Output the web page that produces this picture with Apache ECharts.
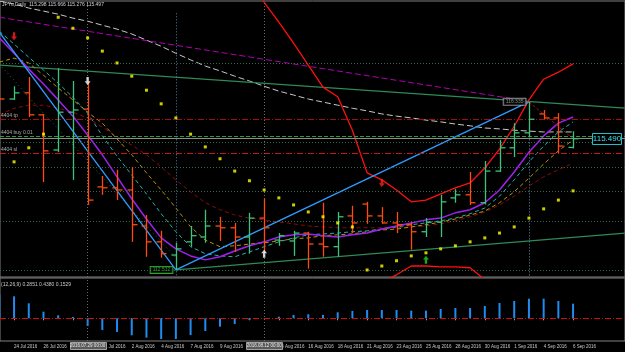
<!DOCTYPE html>
<html>
<head>
<meta charset="UTF-8">
<title>JPY Daily</title>
<script src="https://cdn.jsdelivr.net/npm/echarts@6/dist/echarts.min.js"></script>
<style>html,body{margin:0;padding:0;background:#000;}</style>
</head>
<body>
<div id="main" style="width:625px;height:352px;"></div>
<script type="text/javascript">
// daily bars (Sun-Fri)
var dates = ['22 Jul 2016','24 Jul 2016','25 Jul 2016','26 Jul 2016','27 Jul 2016','28 Jul 2016','29 Jul 2016','31 Jul 2016',
  '1 Aug 2016','2 Aug 2016','3 Aug 2016','4 Aug 2016','5 Aug 2016','7 Aug 2016','8 Aug 2016','9 Aug 2016','10 Aug 2016',
  '11 Aug 2016','12 Aug 2016','14 Aug 2016','15 Aug 2016','16 Aug 2016','17 Aug 2016','18 Aug 2016','19 Aug 2016',
  '21 Aug 2016','22 Aug 2016','23 Aug 2016','24 Aug 2016','25 Aug 2016','26 Aug 2016','28 Aug 2016','29 Aug 2016',
  '30 Aug 2016','31 Aug 2016','1 Sep 2016','2 Sep 2016','4 Sep 2016','5 Sep 2016','6 Sep 2016'];
var labelBars = [1,3,5,7,9,11,13,15,17,19,21,23,25,27,29,31,33,35,37,39];

var opens  = [116.72,116.40,116.54,116.04,115.24,116.10,116.17,114.40,114.38,114.33,113.51,113.15,112.85,113.15,113.26,113.51,113.47,113.26,113.69,113.19,
              113.17,113.35,113.10,113.04,113.74,114.01,113.74,113.58,113.54,113.38,113.60,114.15,114.22,114.04,114.76,115.29,115.63,116.06,115.97,115.298];
var highs  = [116.83,116.69,116.90,116.06,117.10,116.81,116.79,114.65,114.79,114.85,113.76,113.40,113.13,113.51,113.88,113.72,113.58,113.81,114.13,113.35,
              113.40,113.38,114.04,113.83,113.97,114.06,113.94,113.83,113.60,113.69,114.22,114.35,114.74,114.99,115.47,115.85,116.335,116.15,116.08,115.666];
var lows   = [115.81,116.38,115.99,114.51,115.19,114.56,113.99,114.22,114.10,113.15,112.81,112.79,112.512,113.04,113.13,113.17,112.92,112.88,112.90,113.06,
              112.83,112.54,112.81,112.81,113.35,113.56,113.56,113.35,112.97,113.26,113.26,114.04,113.99,114.00,114.74,115.08,115.54,115.94,115.17,115.276];
var closes = [116.40,116.54,116.04,115.22,116.10,116.15,114.10,114.38,114.33,113.54,113.15,112.88,112.99,113.29,113.51,113.47,113.26,113.69,113.47,113.29,
              113.35,113.10,113.04,113.72,113.58,113.74,113.58,113.54,113.38,113.60,114.06,114.22,114.04,114.76,115.29,115.63,115.94,115.97,115.33,115.497];

var maFast = [117.79,117.44,117.08,116.74,116.38,116.01,115.58,115.13,114.63,114.13,113.67,113.24,112.99,112.83,112.74,112.81,112.94,113.06,113.15,113.26,
              113.31,113.33,113.29,113.26,113.31,113.35,113.44,113.51,113.58,113.65,113.69,113.81,113.88,114.04,114.33,114.74,115.19,115.56,115.85,115.99];
var maTeal = [117.94,117.65,117.35,117.06,116.76,116.44,116.08,115.56,115.10,114.67,114.24,113.79,113.38,113.04,112.88,112.83,112.81,112.92,113.04,113.15,
              113.24,113.31,113.33,113.35,113.38,113.40,113.44,113.49,113.54,113.58,113.63,113.69,113.79,113.92,114.19,114.56,114.97,115.33,115.65,115.88];
var maGold = [117.24,117.33,117.22,116.94,116.65,116.38,116.10,115.85,115.49,115.13,114.72,114.33,113.92,113.49,113.19,113.04,113.06,113.10,113.13,113.17,
              113.22,113.24,113.29,113.31,113.33,113.38,113.42,113.44,113.49,113.54,113.60,113.67,113.76,113.85,114.04,114.29,114.60,114.92,115.22,115.47];
var maDarkRed = [116.04,116.19,116.26,116.26,116.19,116.10,115.97,115.76,115.54,115.35,115.13,114.85,114.56,114.29,114.04,113.88,113.76,113.69,113.65,113.60,
              113.56,113.51,113.49,113.47,113.47,113.47,113.47,113.47,113.49,113.51,113.56,113.63,113.72,113.83,113.99,114.19,114.42,114.63,114.79,114.94];
var maSlow = [118.63,118.56,118.47,118.40,118.33,118.24,118.17,118.08,117.99,117.88,117.74,117.60,117.44,117.29,117.15,117.04,116.92,116.81,116.69,116.58,
              116.49,116.40,116.33,116.26,116.19,116.13,116.06,116.01,115.97,115.92,115.88,115.83,115.79,115.74,115.72,115.69,115.67,115.65,115.65,115.65];
var envLow = [117.19,116.83,116.44,116.08,115.72,115.35,114.99,114.63,114.24,113.88,113.51,113.15,112.79];
var sar    = [114.65,114.97,115.29,115.60,118.26,118.01,117.79,117.49,117.22,116.92,116.60,116.29,115.97,115.60,115.31,115.04,114.76,114.54,114.33,114.15,
              113.99,113.83,113.72,113.58,113.49,112.51,112.60,112.72,112.83,112.90,112.99,113.06,113.15,113.24,113.35,113.49,113.69,113.90,114.10,114.31];
var redUpper = [null,null,null,null,null,null,null,null,null,null,null,null,null,null,null,null,null,119.56,118.60,118.15,
              117.67,117.17,116.67,116.45,115.69,114.72,114.56,114.33,114.06,114.10,114.24,114.38,114.49,114.83,115.26,115.78,116.38,116.85,117.01,117.20];
var redLower = [null,null,null,null,null,null,null,null,null,null,null,null,null,null,null,null,null,null,null,null,
              null,null,null,null,null,112.01,112.24,112.40,112.60,112.60,112.58,112.58,112.56,112.29,111.94];
var zigzag = [[0, 117.92], [12, 112.512], [36, 116.335]];
var zigzagOpen = [[36, 116.335], [39, 115.497]];
var trendTop = [[0, 117.17], [43, 116.18]];
var trendLow = [[12, 112.51], [43, 113.36]];
var slowLine = [[0, 118.26], [35, 116.40]];
var arrowsDown = [[1, 117.83, '#ff2020'], [26, 114.49, '#ff2020'], [6, 116.81, '#ffffff']];
var arrowsUp = [[29, 112.74, '#20d020'], [18, 112.88, '#ffffff']];

var gridLevels = [117.21, 115.41, 114.85, 114.30, 113.61, 112.50];
var tpLevel = 115.94, buyLevel = 115.55, slLevel = 115.165, bidPrice = 115.497, lastPrice = 115.490;

var hist = [0.25,0.230,0.157,0.069,0.031,0.014,-0.081,-0.123,-0.143,-0.178,-0.203,-0.217,-0.217,-0.175,-0.133,-0.088,-0.060,-0.018,0.003,0.017,
            0.035,0.042,0.035,0.063,0.076,0.087,0.087,0.087,0.080,0.080,0.097,0.108,0.108,0.129,0.160,0.181,0.205,0.205,0.181,0.153];
var histLabel = '(12,26,9) 0.2851 0.4380 0.1529';
var header = 'JPYc,Daily  115.298 115.666 115.276 115.497';

var myChart = echarts.init(document.getElementById('main'));

// bar index -> x; first bar sits just left of the window edge
var xMin = 0.044, xMax = 42.53;

function pairs(arr) {
    return arr.map(function (v, i) { return [i, v]; });
}

var bars = [];
for (var i = 0; i < opens.length; i++) {
    bars.push([i, opens[i], highs[i], lows[i], closes[i]]);
}

function renderBar(params, api) {
    var i = api.value(0);
    var o = api.coord([i, api.value(1)]);
    var h = api.coord([i, api.value(2)]);
    var l = api.coord([i, api.value(3)]);
    var c = api.coord([i, api.value(4)]);
    var color = api.value(4) >= api.value(1) ? '#3cc47a' : '#ff4a10';
    var x = Math.round(h[0]) + 0.5;
    var st = {stroke: color, lineWidth: 1.3};
    return {
        type: 'group',
        children: [
            {type: 'line', shape: {x1: x, y1: h[1], x2: x, y2: l[1]}, style: st},
            {type: 'line', shape: {x1: x - 5, y1: o[1], x2: x, y2: o[1]}, style: st},
            {type: 'line', shape: {x1: x, y1: c[1], x2: x + 5, y2: c[1]}, style: st}
        ]
    };
}

function line(data, color, dash, width, z) {
    return {
        type: 'line', xAxisIndex: 0, yAxisIndex: 0, data: data, showSymbol: false, symbol: 'none',
        connectNulls: false, silent: true, z: z || 2,
        lineStyle: {color: color, width: width || 1, type: dash || 'solid'}
    };
}

var levelLines = gridLevels.map(function (v) {
    return {yAxis: v, lineStyle: {color: '#2e6b46', type: [1, 2], width: 1}};
});
levelLines.push({yAxis: tpLevel, lineStyle: {color: '#a01010', type: [6, 2, 1, 2], width: 1}});
levelLines.push({yAxis: slLevel, lineStyle: {color: '#c81414', type: [6, 2, 1, 2], width: 1}});
levelLines.push({yAxis: buyLevel, lineStyle: {color: '#2f9a2f', type: [4, 2], width: 1}});
levelLines.push({yAxis: bidPrice, lineStyle: {color: '#8c8c8c', type: 'solid', width: 1}});
levelLines.push({xAxis: 6, lineStyle: {color: '#6a6a6a', type: [1, 2], width: 1}});
levelLines.push({xAxis: 18, lineStyle: {color: '#6a6a6a', type: [1, 2], width: 1}});
levelLines.push([{coord: [12, 118.35], lineStyle: {color: '#4f7fa8', type: [1, 2], width: 1}}, {coord: [12, 112.35]}]);
levelLines.push([{coord: [36, 116.30], lineStyle: {color: '#6f8fa8', type: [1, 2], width: 1}}, {coord: [36, 112.35]}]);

var slowSeries = line(pairs(maSlow), '#c8c8c8', [6, 3], 1, 2);
slowSeries.markLine = {silent: true, symbol: ['none', 'none'], label: {show: false}, data: levelLines};

var priceLabel = function (color) {
    return {
        show: true, position: 'left', distance: 3, fontSize: 5, fontFamily: 'Liberation Sans',
        color: color, borderColor: color, borderWidth: 1, padding: [1, 2, 0, 2], backgroundColor: '#000',
        formatter: function (p) { return p.value[1].toFixed(3); }
    };
};

var downPath = 'path://M3,0L7,0L7,6L10,6L5,11L0,6L3,6Z';

var option = {
    backgroundColor: '#000',
    animation: false,
    grid: [
        {left: 0, right: 0, top: 1, height: 276, show: true, backgroundColor: '#000', borderColor: '#808080', borderWidth: 1},
        {left: 0, right: 0, top: 278, height: 63, show: true, backgroundColor: '#000', borderColor: '#808080', borderWidth: 1}
    ],
    xAxis: [
        {type: 'value', gridIndex: 0, min: xMin, max: xMax, show: false, splitLine: {show: false}},
        {type: 'value', gridIndex: 1, min: xMin, max: xMax, axisLine: {show: false}, splitLine: {show: false},
         axisTick: {show: true, customValues: labelBars, length: 2, lineStyle: {color: '#a0a0a0'}},
         axisLabel: {customValues: labelBars, align: 'left', fontSize: 4.5, color: '#c8c8c8', margin: 3,
                     fontFamily: 'Liberation Sans', formatter: function (v) { return dates[Math.round(v)] || ''; }}}
    ],
    yAxis: [
        {type: 'value', gridIndex: 0, min: 112.35, max: 118.63, show: false, splitLine: {show: false}},
        {type: 'value', gridIndex: 1, min: -0.238, max: 0.422, show: false, splitLine: {show: false}}
    ],
    series: [
        slowSeries,
        line(slowLine, '#b000b0', [6, 3], 1, 2),
        line(trendTop, '#2e8b57', 'solid', 1.3, 2),
        line(trendLow, '#2e8b57', 'solid', 1.3, 2),
        line(pairs(envLow), '#2f5f4a', [1, 3], 1, 2),
        line(pairs(maDarkRed), '#8b0a0a', [4, 3], 1, 3),
        line(pairs(maGold), '#b8900b', [4, 3], 1, 3),
        line(pairs(maTeal), '#20b2aa', [4, 3], 1, 3),
        line(pairs(maFast), '#a020f0', 'solid', 1.5, 4),
        line(pairs(redUpper), '#ff1010', 'solid', 1.3, 4),
        line(pairs(redLower), '#ff1010', 'solid', 1.3, 4),
        line(zigzag, '#2f9bff', 'solid', 1.3, 4),
        line(zigzagOpen, '#8b1a1a', [3, 2], 1, 4),
        {
            type: 'custom', xAxisIndex: 0, yAxisIndex: 0, renderItem: renderBar, data: bars, z: 5, clip: true,
            encode: {x: 0, y: [1, 2, 3, 4]}
        },
        {
            type: 'scatter', xAxisIndex: 0, yAxisIndex: 0, symbol: 'rect', symbolSize: 3, z: 6, silent: true,
            itemStyle: {color: '#ffff00'}, data: pairs(sar)
        },
        {
            type: 'scatter', xAxisIndex: 0, yAxisIndex: 0, symbol: downPath, symbolSize: [6, 8], z: 7, silent: true,
            data: arrowsDown.map(function (a) { return {value: [a[0], a[1]], itemStyle: {color: a[2]}}; })
        },
        {
            type: 'scatter', xAxisIndex: 0, yAxisIndex: 0, symbol: downPath, symbolRotate: 180, symbolSize: [6, 8], z: 7, silent: true,
            data: arrowsUp.map(function (a) { return {value: [a[0], a[1]], itemStyle: {color: a[2]}}; })
        },
        {
            type: 'scatter', xAxisIndex: 0, yAxisIndex: 0, symbolSize: 1, z: 8, silent: true,
            itemStyle: {color: 'rgba(0,0,0,0)'},
            data: [
                {value: [12, lows[12]], label: priceLabel('#3ccc3c')},
                {value: [36, highs[36]], label: priceLabel('#a8a8a8')}
            ]
        },
        {
            type: 'bar', xAxisIndex: 1, yAxisIndex: 1, data: pairs(hist), barWidth: 2, silent: true,
            itemStyle: {color: '#1e8cf0'},
            markLine: {
                silent: true, symbol: ['none', 'none'], label: {show: false},
                data: [
                    {yAxis: 0, lineStyle: {color: '#d01010', type: [6, 2, 1, 2], width: 1}},
                    {xAxis: 6, lineStyle: {color: '#6a6a6a', type: [1, 2], width: 1}},
                    {xAxis: 18, lineStyle: {color: '#6a6a6a', type: [1, 2], width: 1}}
                ]
            }
        }
    ]
};

myChart.setOption(option);

// texts and boxes placed from the axes
var g = [];
g.push({type: 'text', left: 2, top: 2, z: 20,
        style: {text: header, fill: '#d0d0d0', fontSize: 5, fontFamily: 'Liberation Sans'}});
g.push({type: 'text', left: 1, top: 282, z: 20,
        style: {text: histLabel, fill: '#c8c8c8', fontSize: 5, fontFamily: 'Liberation Sans'}});
[['4404 tp', tpLevel], ['4404 buy 0.01', buyLevel], ['4404 sl', slLevel]].forEach(function (t) {
    var y = myChart.convertToPixel({yAxisIndex: 0}, t[1]);
    g.push({type: 'text', left: 1, top: y - 6, z: 20,
            style: {text: t[0], fill: '#b0b0b0', fontSize: 5, fontFamily: 'Liberation Sans'}});
});
[[6, '2016.07.29 00:00'], [18, '2016.08.12 00:00']].forEach(function (b) {
    var x = myChart.convertToPixel({xAxisIndex: 1}, b[0]);
    g.push({type: 'rect', z: 20, shape: {x: Math.round(x - 18) + 0.5, y: 342.5, width: 36, height: 7},
            style: {fill: '#5a5a5a', stroke: '#a0a0a0', lineWidth: 1}});
    g.push({type: 'text', z: 21, x: x, y: 346, style: {text: b[1], fill: '#e8e8e8', fontSize: 4.5,
            fontFamily: 'Liberation Sans', align: 'center', verticalAlign: 'middle'}});
});
var yl = myChart.convertToPixel({yAxisIndex: 0}, lastPrice);
g.push({type: 'rect', z: 20, shape: {x: 592.5, y: Math.round(yl - 6) + 0.5, width: 29, height: 11},
        style: {fill: '#000', stroke: '#20c0c8', lineWidth: 1}});
g.push({type: 'text', z: 21, x: 607, y: yl, style: {text: lastPrice.toFixed(3), fill: '#40e0e8', fontSize: 8,
        fontFamily: 'Liberation Sans', align: 'center', verticalAlign: 'middle'}});
myChart.setOption({graphic: g});
</script>
</body>
</html>
